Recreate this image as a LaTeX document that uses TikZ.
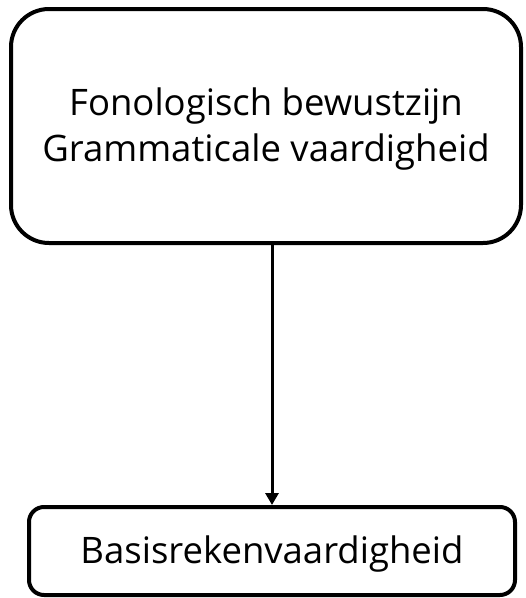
\documentclass[tikz,border=0pt]{standalone}
\usepackage{fontspec}
\setmainfont{Open Sans}
\usetikzlibrary{arrows.meta}
\tikzset{
    factor/.style={draw, line width=4pt, rounded corners=38pt, align=center, font=\fontsize{36.5}{46}\selectfont, text height=77.2pt, text depth=5.3pt},
    result/.style={draw, line width=4pt, rounded corners=15pt, font=\fontsize{36.5}{46}\selectfont, text height=31.2pt, text depth=5.3pt},
}
\begin{document}
\begin{tikzpicture}[x=1pt, y=-1pt]
        \useasboundingbox (0,0) rectangle (526,598);
        % Predictors (top)
        \node[factor, minimum width=510pt, minimum height=234pt] (pred) at (266,126) {Fonologisch bewustzijn\\Grammaticale vaardigheid};
        % Outcome (bottom)
        \node[result, minimum width=486pt, minimum height=88pt] (reken) at (272,551) {Basisrekenvaardigheid};
        % Arrow
        \draw[-{Triangle[length=12pt,width=13pt]}, line width=3pt] (pred.south -| reken.north) -- (reken.north);
    \end{tikzpicture}
\end{document}
